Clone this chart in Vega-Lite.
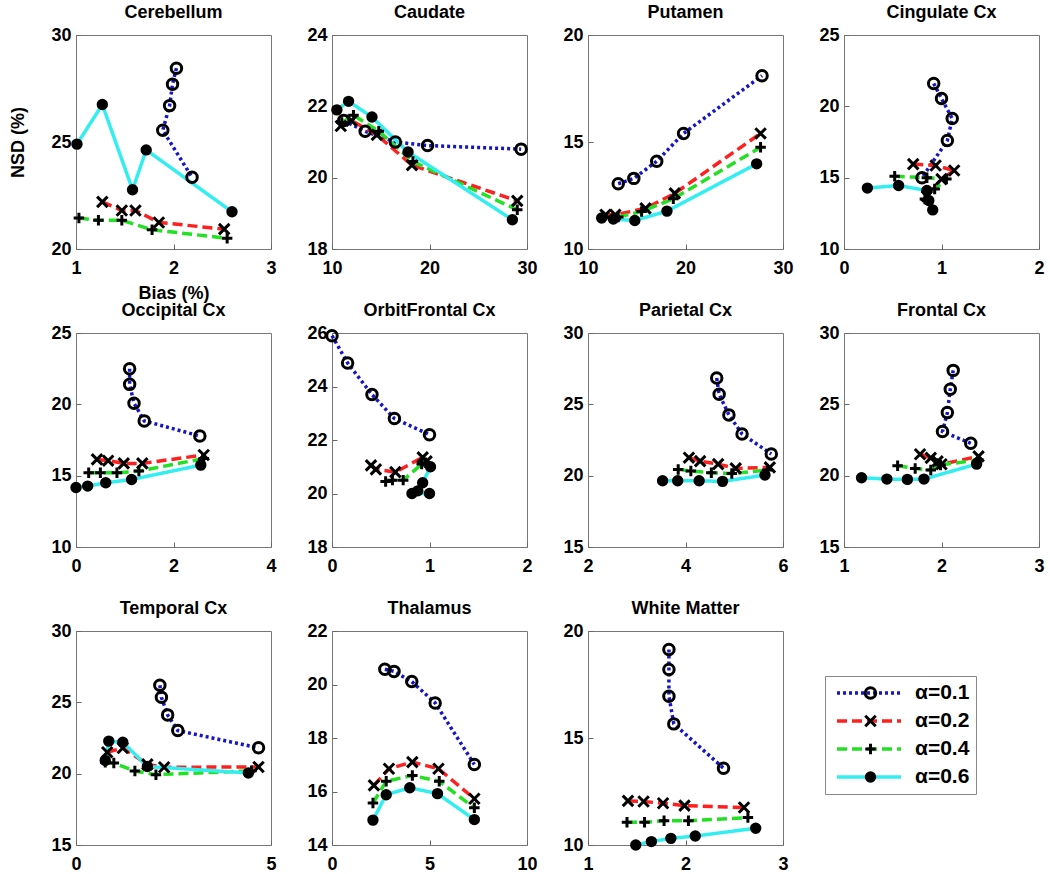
{
 "$schema": "https://vega.github.io/schema/vega-lite/v6.json",
 "background": "white",
 "padding": {"left": 9, "top": 3, "right": 5, "bottom": 2},
 "data": {"values": [
  {"region":"Cerebellum","alpha":"α=0.1","i":1,"bias":2.03,"nsd":28.45},
  {"region":"Cerebellum","alpha":"α=0.1","i":2,"bias":1.99,"nsd":27.7},
  {"region":"Cerebellum","alpha":"α=0.1","i":3,"bias":1.96,"nsd":26.7},
  {"region":"Cerebellum","alpha":"α=0.1","i":4,"bias":1.89,"nsd":25.55},
  {"region":"Cerebellum","alpha":"α=0.1","i":5,"bias":2.19,"nsd":23.35},
  {"region":"Cerebellum","alpha":"α=0.2","i":1,"bias":1.27,"nsd":22.2},
  {"region":"Cerebellum","alpha":"α=0.2","i":2,"bias":1.47,"nsd":21.8},
  {"region":"Cerebellum","alpha":"α=0.2","i":3,"bias":1.61,"nsd":21.8},
  {"region":"Cerebellum","alpha":"α=0.2","i":4,"bias":1.85,"nsd":21.24},
  {"region":"Cerebellum","alpha":"α=0.2","i":5,"bias":2.52,"nsd":20.93},
  {"region":"Cerebellum","alpha":"α=0.4","i":1,"bias":1.03,"nsd":21.45},
  {"region":"Cerebellum","alpha":"α=0.4","i":2,"bias":1.23,"nsd":21.34},
  {"region":"Cerebellum","alpha":"α=0.4","i":3,"bias":1.47,"nsd":21.34},
  {"region":"Cerebellum","alpha":"α=0.4","i":4,"bias":1.78,"nsd":20.9},
  {"region":"Cerebellum","alpha":"α=0.4","i":5,"bias":2.55,"nsd":20.5},
  {"region":"Cerebellum","alpha":"α=0.6","i":1,"bias":1.01,"nsd":24.9},
  {"region":"Cerebellum","alpha":"α=0.6","i":2,"bias":1.27,"nsd":26.75},
  {"region":"Cerebellum","alpha":"α=0.6","i":3,"bias":1.58,"nsd":22.77},
  {"region":"Cerebellum","alpha":"α=0.6","i":4,"bias":1.72,"nsd":24.63},
  {"region":"Cerebellum","alpha":"α=0.6","i":5,"bias":2.6,"nsd":21.74},

  {"region":"Caudate","alpha":"α=0.1","i":1,"bias":11.2,"nsd":21.6},
  {"region":"Caudate","alpha":"α=0.1","i":2,"bias":13.4,"nsd":21.3},
  {"region":"Caudate","alpha":"α=0.1","i":3,"bias":16.5,"nsd":21.0},
  {"region":"Caudate","alpha":"α=0.1","i":4,"bias":19.8,"nsd":20.9},
  {"region":"Caudate","alpha":"α=0.1","i":5,"bias":29.4,"nsd":20.8},
  {"region":"Caudate","alpha":"α=0.2","i":1,"bias":10.9,"nsd":21.45},
  {"region":"Caudate","alpha":"α=0.2","i":2,"bias":12.0,"nsd":21.6},
  {"region":"Caudate","alpha":"α=0.2","i":3,"bias":14.6,"nsd":21.2},
  {"region":"Caudate","alpha":"α=0.2","i":4,"bias":18.2,"nsd":20.35},
  {"region":"Caudate","alpha":"α=0.2","i":5,"bias":29.0,"nsd":19.35},
  {"region":"Caudate","alpha":"α=0.4","i":1,"bias":11.0,"nsd":21.55},
  {"region":"Caudate","alpha":"α=0.4","i":2,"bias":12.2,"nsd":21.75},
  {"region":"Caudate","alpha":"α=0.4","i":3,"bias":14.8,"nsd":21.3},
  {"region":"Caudate","alpha":"α=0.4","i":4,"bias":18.3,"nsd":20.45},
  {"region":"Caudate","alpha":"α=0.4","i":5,"bias":29.0,"nsd":19.1},
  {"region":"Caudate","alpha":"α=0.6","i":1,"bias":10.5,"nsd":21.9},
  {"region":"Caudate","alpha":"α=0.6","i":2,"bias":11.7,"nsd":22.14},
  {"region":"Caudate","alpha":"α=0.6","i":3,"bias":14.1,"nsd":21.7},
  {"region":"Caudate","alpha":"α=0.6","i":4,"bias":17.8,"nsd":20.72},
  {"region":"Caudate","alpha":"α=0.6","i":5,"bias":28.5,"nsd":18.82},

  {"region":"Putamen","alpha":"α=0.1","i":1,"bias":13.1,"nsd":13.05},
  {"region":"Putamen","alpha":"α=0.1","i":2,"bias":14.7,"nsd":13.3},
  {"region":"Putamen","alpha":"α=0.1","i":3,"bias":17.05,"nsd":14.1},
  {"region":"Putamen","alpha":"α=0.1","i":4,"bias":19.8,"nsd":15.4},
  {"region":"Putamen","alpha":"α=0.1","i":5,"bias":27.85,"nsd":18.1},
  {"region":"Putamen","alpha":"α=0.2","i":1,"bias":11.8,"nsd":11.6},
  {"region":"Putamen","alpha":"α=0.2","i":2,"bias":12.8,"nsd":11.6},
  {"region":"Putamen","alpha":"α=0.2","i":3,"bias":15.9,"nsd":11.9},
  {"region":"Putamen","alpha":"α=0.2","i":4,"bias":18.9,"nsd":12.6},
  {"region":"Putamen","alpha":"α=0.2","i":5,"bias":27.7,"nsd":15.4},
  {"region":"Putamen","alpha":"α=0.4","i":1,"bias":11.6,"nsd":11.5},
  {"region":"Putamen","alpha":"α=0.4","i":2,"bias":13.1,"nsd":11.5},
  {"region":"Putamen","alpha":"α=0.4","i":3,"bias":15.5,"nsd":11.75},
  {"region":"Putamen","alpha":"α=0.4","i":4,"bias":18.75,"nsd":12.35},
  {"region":"Putamen","alpha":"α=0.4","i":5,"bias":27.7,"nsd":14.75},
  {"region":"Putamen","alpha":"α=0.6","i":1,"bias":11.4,"nsd":11.45},
  {"region":"Putamen","alpha":"α=0.6","i":2,"bias":12.6,"nsd":11.4},
  {"region":"Putamen","alpha":"α=0.6","i":3,"bias":14.8,"nsd":11.33},
  {"region":"Putamen","alpha":"α=0.6","i":4,"bias":18.1,"nsd":11.77},
  {"region":"Putamen","alpha":"α=0.6","i":5,"bias":27.3,"nsd":13.98},

  {"region":"Cingulate Cx","alpha":"α=0.1","i":1,"bias":0.92,"nsd":21.6},
  {"region":"Cingulate Cx","alpha":"α=0.1","i":2,"bias":1.0,"nsd":20.55},
  {"region":"Cingulate Cx","alpha":"α=0.1","i":3,"bias":1.11,"nsd":19.14},
  {"region":"Cingulate Cx","alpha":"α=0.1","i":4,"bias":1.06,"nsd":17.6},
  {"region":"Cingulate Cx","alpha":"α=0.1","i":5,"bias":0.8,"nsd":15.0},
  {"region":"Cingulate Cx","alpha":"α=0.2","i":1,"bias":0.71,"nsd":15.95},
  {"region":"Cingulate Cx","alpha":"α=0.2","i":2,"bias":0.94,"nsd":15.85},
  {"region":"Cingulate Cx","alpha":"α=0.2","i":3,"bias":1.13,"nsd":15.5},
  {"region":"Cingulate Cx","alpha":"α=0.2","i":4,"bias":1.0,"nsd":14.9},
  {"region":"Cingulate Cx","alpha":"α=0.2","i":5,"bias":0.85,"nsd":13.7},
  {"region":"Cingulate Cx","alpha":"α=0.4","i":1,"bias":0.52,"nsd":15.1},
  {"region":"Cingulate Cx","alpha":"α=0.4","i":2,"bias":0.85,"nsd":15.0},
  {"region":"Cingulate Cx","alpha":"α=0.4","i":3,"bias":1.05,"nsd":14.9},
  {"region":"Cingulate Cx","alpha":"α=0.4","i":4,"bias":0.93,"nsd":14.2},
  {"region":"Cingulate Cx","alpha":"α=0.4","i":5,"bias":0.83,"nsd":13.5},
  {"region":"Cingulate Cx","alpha":"α=0.6","i":1,"bias":0.24,"nsd":14.27},
  {"region":"Cingulate Cx","alpha":"α=0.6","i":2,"bias":0.56,"nsd":14.45},
  {"region":"Cingulate Cx","alpha":"α=0.6","i":3,"bias":0.85,"nsd":14.1},
  {"region":"Cingulate Cx","alpha":"α=0.6","i":4,"bias":0.87,"nsd":13.4},
  {"region":"Cingulate Cx","alpha":"α=0.6","i":5,"bias":0.91,"nsd":12.74},

  {"region":"Occipital Cx","alpha":"α=0.1","i":1,"bias":1.1,"nsd":22.5},
  {"region":"Occipital Cx","alpha":"α=0.1","i":2,"bias":1.1,"nsd":21.4},
  {"region":"Occipital Cx","alpha":"α=0.1","i":3,"bias":1.19,"nsd":20.08},
  {"region":"Occipital Cx","alpha":"α=0.1","i":4,"bias":1.4,"nsd":18.84},
  {"region":"Occipital Cx","alpha":"α=0.1","i":5,"bias":2.54,"nsd":17.78},
  {"region":"Occipital Cx","alpha":"α=0.2","i":1,"bias":0.43,"nsd":16.14},
  {"region":"Occipital Cx","alpha":"α=0.2","i":2,"bias":0.66,"nsd":16.05},
  {"region":"Occipital Cx","alpha":"α=0.2","i":3,"bias":0.98,"nsd":15.86},
  {"region":"Occipital Cx","alpha":"α=0.2","i":4,"bias":1.36,"nsd":15.86},
  {"region":"Occipital Cx","alpha":"α=0.2","i":5,"bias":2.62,"nsd":16.45},
  {"region":"Occipital Cx","alpha":"α=0.4","i":1,"bias":0.26,"nsd":15.2},
  {"region":"Occipital Cx","alpha":"α=0.4","i":2,"bias":0.5,"nsd":15.2},
  {"region":"Occipital Cx","alpha":"α=0.4","i":3,"bias":0.84,"nsd":15.2},
  {"region":"Occipital Cx","alpha":"α=0.4","i":4,"bias":1.29,"nsd":15.32},
  {"region":"Occipital Cx","alpha":"α=0.4","i":5,"bias":2.62,"nsd":16.2},
  {"region":"Occipital Cx","alpha":"α=0.6","i":1,"bias":0.0,"nsd":14.17},
  {"region":"Occipital Cx","alpha":"α=0.6","i":2,"bias":0.24,"nsd":14.27},
  {"region":"Occipital Cx","alpha":"α=0.6","i":3,"bias":0.61,"nsd":14.5},
  {"region":"Occipital Cx","alpha":"α=0.6","i":4,"bias":1.14,"nsd":14.73},
  {"region":"Occipital Cx","alpha":"α=0.6","i":5,"bias":2.56,"nsd":15.74},

  {"region":"OrbitFrontal Cx","alpha":"α=0.1","i":1,"bias":0.0,"nsd":25.9},
  {"region":"OrbitFrontal Cx","alpha":"α=0.1","i":2,"bias":0.16,"nsd":24.88},
  {"region":"OrbitFrontal Cx","alpha":"α=0.1","i":3,"bias":0.41,"nsd":23.7},
  {"region":"OrbitFrontal Cx","alpha":"α=0.1","i":4,"bias":0.64,"nsd":22.8},
  {"region":"OrbitFrontal Cx","alpha":"α=0.1","i":5,"bias":1.0,"nsd":22.2},
  {"region":"OrbitFrontal Cx","alpha":"α=0.2","i":1,"bias":0.4,"nsd":21.05},
  {"region":"OrbitFrontal Cx","alpha":"α=0.2","i":2,"bias":0.45,"nsd":20.9},
  {"region":"OrbitFrontal Cx","alpha":"α=0.2","i":3,"bias":0.65,"nsd":20.8},
  {"region":"OrbitFrontal Cx","alpha":"α=0.2","i":4,"bias":0.93,"nsd":21.35},
  {"region":"OrbitFrontal Cx","alpha":"α=0.2","i":5,"bias":0.97,"nsd":21.2},
  {"region":"OrbitFrontal Cx","alpha":"α=0.4","i":1,"bias":0.55,"nsd":20.45},
  {"region":"OrbitFrontal Cx","alpha":"α=0.4","i":2,"bias":0.62,"nsd":20.5},
  {"region":"OrbitFrontal Cx","alpha":"α=0.4","i":3,"bias":0.73,"nsd":20.5},
  {"region":"OrbitFrontal Cx","alpha":"α=0.4","i":4,"bias":0.92,"nsd":21.1},
  {"region":"OrbitFrontal Cx","alpha":"α=0.4","i":5,"bias":0.96,"nsd":21.15},
  {"region":"OrbitFrontal Cx","alpha":"α=0.6","i":1,"bias":1.0,"nsd":20.0},
  {"region":"OrbitFrontal Cx","alpha":"α=0.6","i":2,"bias":0.82,"nsd":20.0},
  {"region":"OrbitFrontal Cx","alpha":"α=0.6","i":3,"bias":0.88,"nsd":20.1},
  {"region":"OrbitFrontal Cx","alpha":"α=0.6","i":4,"bias":0.93,"nsd":20.4},
  {"region":"OrbitFrontal Cx","alpha":"α=0.6","i":5,"bias":1.01,"nsd":21.0},

  {"region":"Parietal Cx","alpha":"α=0.1","i":1,"bias":4.64,"nsd":26.84},
  {"region":"Parietal Cx","alpha":"α=0.1","i":2,"bias":4.69,"nsd":25.71},
  {"region":"Parietal Cx","alpha":"α=0.1","i":3,"bias":4.89,"nsd":24.26},
  {"region":"Parietal Cx","alpha":"α=0.1","i":4,"bias":5.16,"nsd":22.92},
  {"region":"Parietal Cx","alpha":"α=0.1","i":5,"bias":5.76,"nsd":21.52},
  {"region":"Parietal Cx","alpha":"α=0.2","i":1,"bias":4.07,"nsd":21.26},
  {"region":"Parietal Cx","alpha":"α=0.2","i":2,"bias":4.3,"nsd":21.02},
  {"region":"Parietal Cx","alpha":"α=0.2","i":3,"bias":4.67,"nsd":20.81},
  {"region":"Parietal Cx","alpha":"α=0.2","i":4,"bias":5.03,"nsd":20.51},
  {"region":"Parietal Cx","alpha":"α=0.2","i":5,"bias":5.73,"nsd":20.58},
  {"region":"Parietal Cx","alpha":"α=0.4","i":1,"bias":3.85,"nsd":20.44},
  {"region":"Parietal Cx","alpha":"α=0.4","i":2,"bias":4.11,"nsd":20.32},
  {"region":"Parietal Cx","alpha":"α=0.4","i":3,"bias":4.53,"nsd":20.2},
  {"region":"Parietal Cx","alpha":"α=0.4","i":4,"bias":4.95,"nsd":20.15},
  {"region":"Parietal Cx","alpha":"α=0.4","i":5,"bias":5.68,"nsd":20.39},
  {"region":"Parietal Cx","alpha":"α=0.6","i":1,"bias":3.53,"nsd":19.64},
  {"region":"Parietal Cx","alpha":"α=0.6","i":2,"bias":3.84,"nsd":19.64},
  {"region":"Parietal Cx","alpha":"α=0.6","i":3,"bias":4.28,"nsd":19.64},
  {"region":"Parietal Cx","alpha":"α=0.6","i":4,"bias":4.76,"nsd":19.6},
  {"region":"Parietal Cx","alpha":"α=0.6","i":5,"bias":5.63,"nsd":20.04},

  {"region":"Frontal Cx","alpha":"α=0.1","i":1,"bias":2.12,"nsd":27.38},
  {"region":"Frontal Cx","alpha":"α=0.1","i":2,"bias":2.09,"nsd":26.06},
  {"region":"Frontal Cx","alpha":"α=0.1","i":3,"bias":2.06,"nsd":24.42},
  {"region":"Frontal Cx","alpha":"α=0.1","i":4,"bias":2.01,"nsd":23.09},
  {"region":"Frontal Cx","alpha":"α=0.1","i":5,"bias":2.3,"nsd":22.27},
  {"region":"Frontal Cx","alpha":"α=0.2","i":1,"bias":1.78,"nsd":21.5},
  {"region":"Frontal Cx","alpha":"α=0.2","i":2,"bias":1.89,"nsd":21.25},
  {"region":"Frontal Cx","alpha":"α=0.2","i":3,"bias":1.96,"nsd":21.0},
  {"region":"Frontal Cx","alpha":"α=0.2","i":4,"bias":2.0,"nsd":20.8},
  {"region":"Frontal Cx","alpha":"α=0.2","i":5,"bias":2.38,"nsd":21.35},
  {"region":"Frontal Cx","alpha":"α=0.4","i":1,"bias":1.55,"nsd":20.7},
  {"region":"Frontal Cx","alpha":"α=0.4","i":2,"bias":1.73,"nsd":20.5},
  {"region":"Frontal Cx","alpha":"α=0.4","i":3,"bias":1.89,"nsd":20.4},
  {"region":"Frontal Cx","alpha":"α=0.4","i":4,"bias":1.99,"nsd":20.75},
  {"region":"Frontal Cx","alpha":"α=0.4","i":5,"bias":2.38,"nsd":21.1},
  {"region":"Frontal Cx","alpha":"α=0.6","i":1,"bias":1.18,"nsd":19.85},
  {"region":"Frontal Cx","alpha":"α=0.6","i":2,"bias":1.44,"nsd":19.76},
  {"region":"Frontal Cx","alpha":"α=0.6","i":3,"bias":1.65,"nsd":19.74},
  {"region":"Frontal Cx","alpha":"α=0.6","i":4,"bias":1.82,"nsd":19.76},
  {"region":"Frontal Cx","alpha":"α=0.6","i":5,"bias":2.36,"nsd":20.81},

  {"region":"Temporal Cx","alpha":"α=0.1","i":1,"bias":2.15,"nsd":26.2},
  {"region":"Temporal Cx","alpha":"α=0.1","i":2,"bias":2.19,"nsd":25.35},
  {"region":"Temporal Cx","alpha":"α=0.1","i":3,"bias":2.35,"nsd":24.12},
  {"region":"Temporal Cx","alpha":"α=0.1","i":4,"bias":2.61,"nsd":23.02},
  {"region":"Temporal Cx","alpha":"α=0.1","i":5,"bias":4.68,"nsd":21.81},
  {"region":"Temporal Cx","alpha":"α=0.2","i":1,"bias":0.8,"nsd":21.5},
  {"region":"Temporal Cx","alpha":"α=0.2","i":2,"bias":1.2,"nsd":21.8},
  {"region":"Temporal Cx","alpha":"α=0.2","i":3,"bias":1.83,"nsd":20.65},
  {"region":"Temporal Cx","alpha":"α=0.2","i":4,"bias":2.26,"nsd":20.45},
  {"region":"Temporal Cx","alpha":"α=0.2","i":5,"bias":4.68,"nsd":20.47},
  {"region":"Temporal Cx","alpha":"α=0.4","i":1,"bias":0.75,"nsd":20.8},
  {"region":"Temporal Cx","alpha":"α=0.4","i":2,"bias":0.97,"nsd":20.74},
  {"region":"Temporal Cx","alpha":"α=0.4","i":3,"bias":1.51,"nsd":20.19},
  {"region":"Temporal Cx","alpha":"α=0.4","i":4,"bias":2.05,"nsd":19.93},
  {"region":"Temporal Cx","alpha":"α=0.4","i":5,"bias":4.5,"nsd":20.2},
  {"region":"Temporal Cx","alpha":"α=0.6","i":1,"bias":0.75,"nsd":20.93},
  {"region":"Temporal Cx","alpha":"α=0.6","i":2,"bias":0.84,"nsd":22.28},
  {"region":"Temporal Cx","alpha":"α=0.6","i":3,"bias":1.2,"nsd":22.2},
  {"region":"Temporal Cx","alpha":"α=0.6","i":4,"bias":1.83,"nsd":20.5},
  {"region":"Temporal Cx","alpha":"α=0.6","i":5,"bias":4.42,"nsd":20.05},

  {"region":"Thalamus","alpha":"α=0.1","i":1,"bias":2.71,"nsd":20.57},
  {"region":"Thalamus","alpha":"α=0.1","i":2,"bias":3.18,"nsd":20.49},
  {"region":"Thalamus","alpha":"α=0.1","i":3,"bias":4.09,"nsd":20.11},
  {"region":"Thalamus","alpha":"α=0.1","i":4,"bias":5.29,"nsd":19.31},
  {"region":"Thalamus","alpha":"α=0.1","i":5,"bias":7.3,"nsd":17.01},
  {"region":"Thalamus","alpha":"α=0.2","i":1,"bias":2.15,"nsd":16.23},
  {"region":"Thalamus","alpha":"α=0.2","i":2,"bias":2.92,"nsd":16.85},
  {"region":"Thalamus","alpha":"α=0.2","i":3,"bias":4.12,"nsd":17.1},
  {"region":"Thalamus","alpha":"α=0.2","i":4,"bias":5.46,"nsd":16.85},
  {"region":"Thalamus","alpha":"α=0.2","i":5,"bias":7.3,"nsd":15.73},
  {"region":"Thalamus","alpha":"α=0.4","i":1,"bias":2.1,"nsd":15.57},
  {"region":"Thalamus","alpha":"α=0.4","i":2,"bias":2.78,"nsd":16.38},
  {"region":"Thalamus","alpha":"α=0.4","i":3,"bias":4.12,"nsd":16.6},
  {"region":"Thalamus","alpha":"α=0.4","i":4,"bias":5.5,"nsd":16.38},
  {"region":"Thalamus","alpha":"α=0.4","i":5,"bias":7.3,"nsd":15.39},
  {"region":"Thalamus","alpha":"α=0.6","i":1,"bias":2.1,"nsd":14.93},
  {"region":"Thalamus","alpha":"α=0.6","i":2,"bias":2.78,"nsd":15.88},
  {"region":"Thalamus","alpha":"α=0.6","i":3,"bias":3.99,"nsd":16.14},
  {"region":"Thalamus","alpha":"α=0.6","i":4,"bias":5.41,"nsd":15.92},
  {"region":"Thalamus","alpha":"α=0.6","i":5,"bias":7.3,"nsd":14.95},

  {"region":"White Matter","alpha":"α=0.1","i":1,"bias":1.83,"nsd":19.14},
  {"region":"White Matter","alpha":"α=0.1","i":2,"bias":1.83,"nsd":18.2},
  {"region":"White Matter","alpha":"α=0.1","i":3,"bias":1.83,"nsd":16.95},
  {"region":"White Matter","alpha":"α=0.1","i":4,"bias":1.88,"nsd":15.66},
  {"region":"White Matter","alpha":"α=0.1","i":5,"bias":2.39,"nsd":13.59},
  {"region":"White Matter","alpha":"α=0.2","i":1,"bias":1.41,"nsd":12.06},
  {"region":"White Matter","alpha":"α=0.2","i":2,"bias":1.57,"nsd":12.03},
  {"region":"White Matter","alpha":"α=0.2","i":3,"bias":1.77,"nsd":11.95},
  {"region":"White Matter","alpha":"α=0.2","i":4,"bias":1.99,"nsd":11.84},
  {"region":"White Matter","alpha":"α=0.2","i":5,"bias":2.6,"nsd":11.75},
  {"region":"White Matter","alpha":"α=0.4","i":1,"bias":1.4,"nsd":11.06},
  {"region":"White Matter","alpha":"α=0.4","i":2,"bias":1.58,"nsd":11.06},
  {"region":"White Matter","alpha":"α=0.4","i":3,"bias":1.78,"nsd":11.13},
  {"region":"White Matter","alpha":"α=0.4","i":4,"bias":2.03,"nsd":11.13},
  {"region":"White Matter","alpha":"α=0.4","i":5,"bias":2.64,"nsd":11.28},
  {"region":"White Matter","alpha":"α=0.6","i":1,"bias":1.49,"nsd":10.0},
  {"region":"White Matter","alpha":"α=0.6","i":2,"bias":1.65,"nsd":10.16},
  {"region":"White Matter","alpha":"α=0.6","i":3,"bias":1.85,"nsd":10.31},
  {"region":"White Matter","alpha":"α=0.6","i":4,"bias":2.1,"nsd":10.42},
  {"region":"White Matter","alpha":"α=0.6","i":5,"bias":2.72,"nsd":10.78}
 ]},
 "columns": 4,
 "spacing": {"row": 84, "column": 61},
 "bounds": "flush",
 "resolve": {"scale": {"x": "independent", "y": "independent"}},
 "concat": [
  {"width":195,"height":214,"title":"Cerebellum",
   "transform":[{"filter":"datum.region === 'Cerebellum'"}],
   "encoding":{
    "x":{"field":"bias","type":"quantitative","scale":{"domain":[1,3],"nice":false,"zero":false},"axis":{"values":[1,2,3],"format":"~g","title":"Bias (%)","titlePadding":7}},
    "y":{"field":"nsd","type":"quantitative","scale":{"domain":[20,30],"nice":false,"zero":false},"axis":{"values":[20,25,30],"format":"~g","title":"NSD (%)","titlePadding":23}},
    "order":{"field":"i","type":"quantitative"}},
   "layer":[
    {"mark":{"type":"line","strokeWidth":3.5},
     "encoding":{
      "color":{"field":"alpha","type":"nominal","scale":{"domain":["α=0.1","α=0.2","α=0.4","α=0.6"],"range":["#1414c8","#ff1f1f","#22e022","#33eef0"]},
       "legend":{"orient":"none","legendX":749,"legendY":641,"title":null,"symbolType":"stroke","symbolSize":4096,"symbolStrokeWidth":3.5,"symbolOffset":4,"clipHeight":22,"rowPadding":6,"padding":6,"labelOffset":12,"labelFont":"Liberation Sans","labelFontSize":21,"labelFontWeight":"bold","labelColor":"black","strokeColor":"#888","fillColor":"white"}},
      "strokeDash":{"field":"alpha","type":"nominal","scale":{"domain":["α=0.1","α=0.2","α=0.4","α=0.6"],"range":[[3,3],[10,5],[10,5],[1,0]]},
       "legend":{"orient":"none","legendX":749,"legendY":641,"title":null,"symbolType":"stroke","symbolSize":4096,"symbolStrokeWidth":3.5,"symbolOffset":4,"clipHeight":22,"rowPadding":6,"padding":6,"labelOffset":12,"labelFont":"Liberation Sans","labelFontSize":21,"labelFontWeight":"bold","labelColor":"black","strokeColor":"#888","fillColor":"white"}}}},
    {"mark":{"type":"point","filled":false,"stroke":"black","strokeWidth":3,"size":110,"opacity":1},
     "encoding":{
      "shape":{"field":"alpha","type":"nominal","scale":{"range":["circle","M-1,-1L1,1M1,-1L-1,1","M-1,0L1,0M0,-1L0,1","M-0.8,0A0.8,0.8 0 1,0 0.8,0A0.8,0.8 0 1,0 -0.8,0M-0.55,0A0.55,0.55 0 1,0 0.55,0A0.55,0.55 0 1,0 -0.55,0M-0.3,0A0.3,0.3 0 1,0 0.3,0A0.3,0.3 0 1,0 -0.3,0M-0.08,0A0.08,0.08 0 1,0 0.08,0A0.08,0.08 0 1,0 -0.08,0"]},
       "legend":{"orient":"none","legendX":749,"legendY":641,"title":null,"symbolSize":110,"symbolStrokeWidth":3,"symbolStrokeColor":"black","symbolFillColor":"transparent","symbolOffset":29,"clipHeight":22,"rowPadding":6,"padding":6,"labelFontSize":21,"labelExpr":"''"}}}}
   ]},
  {"width":195,"height":214,"title":"Caudate",
   "transform":[{"filter":"datum.region === 'Caudate'"}],
   "encoding":{
    "x":{"field":"bias","type":"quantitative","scale":{"domain":[10,30],"nice":false,"zero":false},"axis":{"values":[10,20,30],"format":"~g","title":null}},
    "y":{"field":"nsd","type":"quantitative","scale":{"domain":[18,24],"nice":false,"zero":false},"axis":{"values":[18,20,22,24],"format":"~g","title":null}},
    "order":{"field":"i","type":"quantitative"}},
   "layer":[
    {"mark":{"type":"line","strokeWidth":3.5},
     "encoding":{
      "color":{"field":"alpha","type":"nominal","scale":{"domain":["α=0.1","α=0.2","α=0.4","α=0.6"],"range":["#1414c8","#ff1f1f","#22e022","#33eef0"]}},
      "strokeDash":{"field":"alpha","type":"nominal","scale":{"domain":["α=0.1","α=0.2","α=0.4","α=0.6"],"range":[[3,3],[10,5],[10,5],[1,0]]}}}},
    {"mark":{"type":"point","filled":false,"stroke":"black","strokeWidth":3,"size":110,"opacity":1},
     "encoding":{
      "shape":{"field":"alpha","type":"nominal","scale":{"range":["circle","M-1,-1L1,1M1,-1L-1,1","M-1,0L1,0M0,-1L0,1","M-0.8,0A0.8,0.8 0 1,0 0.8,0A0.8,0.8 0 1,0 -0.8,0M-0.55,0A0.55,0.55 0 1,0 0.55,0A0.55,0.55 0 1,0 -0.55,0M-0.3,0A0.3,0.3 0 1,0 0.3,0A0.3,0.3 0 1,0 -0.3,0M-0.08,0A0.08,0.08 0 1,0 0.08,0A0.08,0.08 0 1,0 -0.08,0"]}}}}
   ]},
  {"width":195,"height":214,"title":"Putamen",
   "transform":[{"filter":"datum.region === 'Putamen'"}],
   "encoding":{
    "x":{"field":"bias","type":"quantitative","scale":{"domain":[10,30],"nice":false,"zero":false},"axis":{"values":[10,20,30],"format":"~g","title":null}},
    "y":{"field":"nsd","type":"quantitative","scale":{"domain":[10,20],"nice":false,"zero":false},"axis":{"values":[10,15,20],"format":"~g","title":null}},
    "order":{"field":"i","type":"quantitative"}},
   "layer":[
    {"mark":{"type":"line","strokeWidth":3.5},
     "encoding":{
      "color":{"field":"alpha","type":"nominal","scale":{"domain":["α=0.1","α=0.2","α=0.4","α=0.6"],"range":["#1414c8","#ff1f1f","#22e022","#33eef0"]}},
      "strokeDash":{"field":"alpha","type":"nominal","scale":{"domain":["α=0.1","α=0.2","α=0.4","α=0.6"],"range":[[3,3],[10,5],[10,5],[1,0]]}}}},
    {"mark":{"type":"point","filled":false,"stroke":"black","strokeWidth":3,"size":110,"opacity":1},
     "encoding":{
      "shape":{"field":"alpha","type":"nominal","scale":{"range":["circle","M-1,-1L1,1M1,-1L-1,1","M-1,0L1,0M0,-1L0,1","M-0.8,0A0.8,0.8 0 1,0 0.8,0A0.8,0.8 0 1,0 -0.8,0M-0.55,0A0.55,0.55 0 1,0 0.55,0A0.55,0.55 0 1,0 -0.55,0M-0.3,0A0.3,0.3 0 1,0 0.3,0A0.3,0.3 0 1,0 -0.3,0M-0.08,0A0.08,0.08 0 1,0 0.08,0A0.08,0.08 0 1,0 -0.08,0"]}}}}
   ]},
  {"width":195,"height":214,"title":"Cingulate Cx",
   "transform":[{"filter":"datum.region === 'Cingulate Cx'"}],
   "encoding":{
    "x":{"field":"bias","type":"quantitative","scale":{"domain":[0,2],"nice":false,"zero":false},"axis":{"values":[0,1,2],"format":"~g","title":null}},
    "y":{"field":"nsd","type":"quantitative","scale":{"domain":[10,25],"nice":false,"zero":false},"axis":{"values":[10,15,20,25],"format":"~g","title":null}},
    "order":{"field":"i","type":"quantitative"}},
   "layer":[
    {"mark":{"type":"line","strokeWidth":3.5},
     "encoding":{
      "color":{"field":"alpha","type":"nominal","scale":{"domain":["α=0.1","α=0.2","α=0.4","α=0.6"],"range":["#1414c8","#ff1f1f","#22e022","#33eef0"]}},
      "strokeDash":{"field":"alpha","type":"nominal","scale":{"domain":["α=0.1","α=0.2","α=0.4","α=0.6"],"range":[[3,3],[10,5],[10,5],[1,0]]}}}},
    {"mark":{"type":"point","filled":false,"stroke":"black","strokeWidth":3,"size":110,"opacity":1},
     "encoding":{
      "shape":{"field":"alpha","type":"nominal","scale":{"range":["circle","M-1,-1L1,1M1,-1L-1,1","M-1,0L1,0M0,-1L0,1","M-0.8,0A0.8,0.8 0 1,0 0.8,0A0.8,0.8 0 1,0 -0.8,0M-0.55,0A0.55,0.55 0 1,0 0.55,0A0.55,0.55 0 1,0 -0.55,0M-0.3,0A0.3,0.3 0 1,0 0.3,0A0.3,0.3 0 1,0 -0.3,0M-0.08,0A0.08,0.08 0 1,0 0.08,0A0.08,0.08 0 1,0 -0.08,0"]}}}}
   ]},
  {"width":195,"height":214,"title":"Occipital Cx",
   "transform":[{"filter":"datum.region === 'Occipital Cx'"}],
   "encoding":{
    "x":{"field":"bias","type":"quantitative","scale":{"domain":[0,4],"nice":false,"zero":false},"axis":{"values":[0,2,4],"format":"~g","title":null}},
    "y":{"field":"nsd","type":"quantitative","scale":{"domain":[10,25],"nice":false,"zero":false},"axis":{"values":[10,15,20,25],"format":"~g","title":null}},
    "order":{"field":"i","type":"quantitative"}},
   "layer":[
    {"mark":{"type":"line","strokeWidth":3.5},
     "encoding":{
      "color":{"field":"alpha","type":"nominal","scale":{"domain":["α=0.1","α=0.2","α=0.4","α=0.6"],"range":["#1414c8","#ff1f1f","#22e022","#33eef0"]}},
      "strokeDash":{"field":"alpha","type":"nominal","scale":{"domain":["α=0.1","α=0.2","α=0.4","α=0.6"],"range":[[3,3],[10,5],[10,5],[1,0]]}}}},
    {"mark":{"type":"point","filled":false,"stroke":"black","strokeWidth":3,"size":110,"opacity":1},
     "encoding":{
      "shape":{"field":"alpha","type":"nominal","scale":{"range":["circle","M-1,-1L1,1M1,-1L-1,1","M-1,0L1,0M0,-1L0,1","M-0.8,0A0.8,0.8 0 1,0 0.8,0A0.8,0.8 0 1,0 -0.8,0M-0.55,0A0.55,0.55 0 1,0 0.55,0A0.55,0.55 0 1,0 -0.55,0M-0.3,0A0.3,0.3 0 1,0 0.3,0A0.3,0.3 0 1,0 -0.3,0M-0.08,0A0.08,0.08 0 1,0 0.08,0A0.08,0.08 0 1,0 -0.08,0"]}}}}
   ]},
  {"width":195,"height":214,"title":"OrbitFrontal Cx",
   "transform":[{"filter":"datum.region === 'OrbitFrontal Cx'"}],
   "encoding":{
    "x":{"field":"bias","type":"quantitative","scale":{"domain":[0,2],"nice":false,"zero":false},"axis":{"values":[0,1,2],"format":"~g","title":null}},
    "y":{"field":"nsd","type":"quantitative","scale":{"domain":[18,26],"nice":false,"zero":false},"axis":{"values":[18,20,22,24,26],"format":"~g","title":null}},
    "order":{"field":"i","type":"quantitative"}},
   "layer":[
    {"mark":{"type":"line","strokeWidth":3.5},
     "encoding":{
      "color":{"field":"alpha","type":"nominal","scale":{"domain":["α=0.1","α=0.2","α=0.4","α=0.6"],"range":["#1414c8","#ff1f1f","#22e022","#33eef0"]}},
      "strokeDash":{"field":"alpha","type":"nominal","scale":{"domain":["α=0.1","α=0.2","α=0.4","α=0.6"],"range":[[3,3],[10,5],[10,5],[1,0]]}}}},
    {"mark":{"type":"point","filled":false,"stroke":"black","strokeWidth":3,"size":110,"opacity":1},
     "encoding":{
      "shape":{"field":"alpha","type":"nominal","scale":{"range":["circle","M-1,-1L1,1M1,-1L-1,1","M-1,0L1,0M0,-1L0,1","M-0.8,0A0.8,0.8 0 1,0 0.8,0A0.8,0.8 0 1,0 -0.8,0M-0.55,0A0.55,0.55 0 1,0 0.55,0A0.55,0.55 0 1,0 -0.55,0M-0.3,0A0.3,0.3 0 1,0 0.3,0A0.3,0.3 0 1,0 -0.3,0M-0.08,0A0.08,0.08 0 1,0 0.08,0A0.08,0.08 0 1,0 -0.08,0"]}}}}
   ]},
  {"width":195,"height":214,"title":"Parietal Cx",
   "transform":[{"filter":"datum.region === 'Parietal Cx'"}],
   "encoding":{
    "x":{"field":"bias","type":"quantitative","scale":{"domain":[2,6],"nice":false,"zero":false},"axis":{"values":[2,4,6],"format":"~g","title":null}},
    "y":{"field":"nsd","type":"quantitative","scale":{"domain":[15,30],"nice":false,"zero":false},"axis":{"values":[15,20,25,30],"format":"~g","title":null}},
    "order":{"field":"i","type":"quantitative"}},
   "layer":[
    {"mark":{"type":"line","strokeWidth":3.5},
     "encoding":{
      "color":{"field":"alpha","type":"nominal","scale":{"domain":["α=0.1","α=0.2","α=0.4","α=0.6"],"range":["#1414c8","#ff1f1f","#22e022","#33eef0"]}},
      "strokeDash":{"field":"alpha","type":"nominal","scale":{"domain":["α=0.1","α=0.2","α=0.4","α=0.6"],"range":[[3,3],[10,5],[10,5],[1,0]]}}}},
    {"mark":{"type":"point","filled":false,"stroke":"black","strokeWidth":3,"size":110,"opacity":1},
     "encoding":{
      "shape":{"field":"alpha","type":"nominal","scale":{"range":["circle","M-1,-1L1,1M1,-1L-1,1","M-1,0L1,0M0,-1L0,1","M-0.8,0A0.8,0.8 0 1,0 0.8,0A0.8,0.8 0 1,0 -0.8,0M-0.55,0A0.55,0.55 0 1,0 0.55,0A0.55,0.55 0 1,0 -0.55,0M-0.3,0A0.3,0.3 0 1,0 0.3,0A0.3,0.3 0 1,0 -0.3,0M-0.08,0A0.08,0.08 0 1,0 0.08,0A0.08,0.08 0 1,0 -0.08,0"]}}}}
   ]},
  {"width":195,"height":214,"title":"Frontal Cx",
   "transform":[{"filter":"datum.region === 'Frontal Cx'"}],
   "encoding":{
    "x":{"field":"bias","type":"quantitative","scale":{"domain":[1,3],"nice":false,"zero":false},"axis":{"values":[1,2,3],"format":"~g","title":null}},
    "y":{"field":"nsd","type":"quantitative","scale":{"domain":[15,30],"nice":false,"zero":false},"axis":{"values":[15,20,25,30],"format":"~g","title":null}},
    "order":{"field":"i","type":"quantitative"}},
   "layer":[
    {"mark":{"type":"line","strokeWidth":3.5},
     "encoding":{
      "color":{"field":"alpha","type":"nominal","scale":{"domain":["α=0.1","α=0.2","α=0.4","α=0.6"],"range":["#1414c8","#ff1f1f","#22e022","#33eef0"]}},
      "strokeDash":{"field":"alpha","type":"nominal","scale":{"domain":["α=0.1","α=0.2","α=0.4","α=0.6"],"range":[[3,3],[10,5],[10,5],[1,0]]}}}},
    {"mark":{"type":"point","filled":false,"stroke":"black","strokeWidth":3,"size":110,"opacity":1},
     "encoding":{
      "shape":{"field":"alpha","type":"nominal","scale":{"range":["circle","M-1,-1L1,1M1,-1L-1,1","M-1,0L1,0M0,-1L0,1","M-0.8,0A0.8,0.8 0 1,0 0.8,0A0.8,0.8 0 1,0 -0.8,0M-0.55,0A0.55,0.55 0 1,0 0.55,0A0.55,0.55 0 1,0 -0.55,0M-0.3,0A0.3,0.3 0 1,0 0.3,0A0.3,0.3 0 1,0 -0.3,0M-0.08,0A0.08,0.08 0 1,0 0.08,0A0.08,0.08 0 1,0 -0.08,0"]}}}}
   ]},
  {"width":195,"height":214,"title":"Temporal Cx",
   "transform":[{"filter":"datum.region === 'Temporal Cx'"}],
   "encoding":{
    "x":{"field":"bias","type":"quantitative","scale":{"domain":[0,5],"nice":false,"zero":false},"axis":{"values":[0,5],"format":"~g","title":null}},
    "y":{"field":"nsd","type":"quantitative","scale":{"domain":[15,30],"nice":false,"zero":false},"axis":{"values":[15,20,25,30],"format":"~g","title":null}},
    "order":{"field":"i","type":"quantitative"}},
   "layer":[
    {"mark":{"type":"line","strokeWidth":3.5},
     "encoding":{
      "color":{"field":"alpha","type":"nominal","scale":{"domain":["α=0.1","α=0.2","α=0.4","α=0.6"],"range":["#1414c8","#ff1f1f","#22e022","#33eef0"]}},
      "strokeDash":{"field":"alpha","type":"nominal","scale":{"domain":["α=0.1","α=0.2","α=0.4","α=0.6"],"range":[[3,3],[10,5],[10,5],[1,0]]}}}},
    {"mark":{"type":"point","filled":false,"stroke":"black","strokeWidth":3,"size":110,"opacity":1},
     "encoding":{
      "shape":{"field":"alpha","type":"nominal","scale":{"range":["circle","M-1,-1L1,1M1,-1L-1,1","M-1,0L1,0M0,-1L0,1","M-0.8,0A0.8,0.8 0 1,0 0.8,0A0.8,0.8 0 1,0 -0.8,0M-0.55,0A0.55,0.55 0 1,0 0.55,0A0.55,0.55 0 1,0 -0.55,0M-0.3,0A0.3,0.3 0 1,0 0.3,0A0.3,0.3 0 1,0 -0.3,0M-0.08,0A0.08,0.08 0 1,0 0.08,0A0.08,0.08 0 1,0 -0.08,0"]}}}}
   ]},
  {"width":195,"height":214,"title":"Thalamus",
   "transform":[{"filter":"datum.region === 'Thalamus'"}],
   "encoding":{
    "x":{"field":"bias","type":"quantitative","scale":{"domain":[0,10],"nice":false,"zero":false},"axis":{"values":[0,5,10],"format":"d","title":null}},
    "y":{"field":"nsd","type":"quantitative","scale":{"domain":[14,22],"nice":false,"zero":false},"axis":{"values":[14,16,18,20,22],"format":"~g","title":null}},
    "order":{"field":"i","type":"quantitative"}},
   "layer":[
    {"mark":{"type":"line","strokeWidth":3.5},
     "encoding":{
      "color":{"field":"alpha","type":"nominal","scale":{"domain":["α=0.1","α=0.2","α=0.4","α=0.6"],"range":["#1414c8","#ff1f1f","#22e022","#33eef0"]}},
      "strokeDash":{"field":"alpha","type":"nominal","scale":{"domain":["α=0.1","α=0.2","α=0.4","α=0.6"],"range":[[3,3],[10,5],[10,5],[1,0]]}}}},
    {"mark":{"type":"point","filled":false,"stroke":"black","strokeWidth":3,"size":110,"opacity":1},
     "encoding":{
      "shape":{"field":"alpha","type":"nominal","scale":{"range":["circle","M-1,-1L1,1M1,-1L-1,1","M-1,0L1,0M0,-1L0,1","M-0.8,0A0.8,0.8 0 1,0 0.8,0A0.8,0.8 0 1,0 -0.8,0M-0.55,0A0.55,0.55 0 1,0 0.55,0A0.55,0.55 0 1,0 -0.55,0M-0.3,0A0.3,0.3 0 1,0 0.3,0A0.3,0.3 0 1,0 -0.3,0M-0.08,0A0.08,0.08 0 1,0 0.08,0A0.08,0.08 0 1,0 -0.08,0"]}}}}
   ]},
  {"width":195,"height":214,"title":"White Matter",
   "transform":[{"filter":"datum.region === 'White Matter'"}],
   "encoding":{
    "x":{"field":"bias","type":"quantitative","scale":{"domain":[1,3],"nice":false,"zero":false},"axis":{"values":[1,2,3],"format":"~g","title":null}},
    "y":{"field":"nsd","type":"quantitative","scale":{"domain":[10,20],"nice":false,"zero":false},"axis":{"values":[10,15,20],"format":"~g","title":null}},
    "order":{"field":"i","type":"quantitative"}},
   "layer":[
    {"mark":{"type":"line","strokeWidth":3.5},
     "encoding":{
      "color":{"field":"alpha","type":"nominal","scale":{"domain":["α=0.1","α=0.2","α=0.4","α=0.6"],"range":["#1414c8","#ff1f1f","#22e022","#33eef0"]}},
      "strokeDash":{"field":"alpha","type":"nominal","scale":{"domain":["α=0.1","α=0.2","α=0.4","α=0.6"],"range":[[3,3],[10,5],[10,5],[1,0]]}}}},
    {"mark":{"type":"point","filled":false,"stroke":"black","strokeWidth":3,"size":110,"opacity":1},
     "encoding":{
      "shape":{"field":"alpha","type":"nominal","scale":{"range":["circle","M-1,-1L1,1M1,-1L-1,1","M-1,0L1,0M0,-1L0,1","M-0.8,0A0.8,0.8 0 1,0 0.8,0A0.8,0.8 0 1,0 -0.8,0M-0.55,0A0.55,0.55 0 1,0 0.55,0A0.55,0.55 0 1,0 -0.55,0M-0.3,0A0.3,0.3 0 1,0 0.3,0A0.3,0.3 0 1,0 -0.3,0M-0.08,0A0.08,0.08 0 1,0 0.08,0A0.08,0.08 0 1,0 -0.08,0"]}}}}
   ]}
 ],
 "config": {
  "font": "Liberation Sans",
  "view": {"stroke": "#777", "strokeWidth": 1},
  "legend": {"symbolStrokeColor": "black"},
  "axis": {"grid": false, "domain": false, "labelFlush": false, "labelFont": "Liberation Sans", "labelFontSize": 18, "labelFontWeight": "bold", "labelColor": "black", "titleFont": "Liberation Sans", "titleFontSize": 18, "titleFontWeight": "bold", "titleColor": "black", "tickColor": "#666", "tickSize": -5},
  "axisX": {"labelPadding": 15},
  "axisY": {"labelPadding": 10},
  "title": {"font": "Liberation Sans", "fontSize": 18, "fontWeight": "bold", "color": "black", "offset": 4}
 }
}
